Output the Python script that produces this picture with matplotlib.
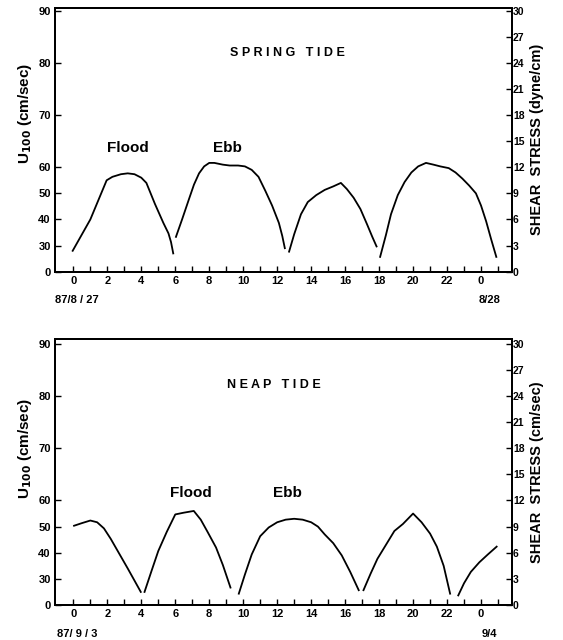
import numpy as np
import matplotlib
matplotlib.use('Agg')
import matplotlib.pyplot as plt

plt.rcParams['font.family'] = ['Liberation Sans', 'DejaVu Sans']
plt.rcParams['font.weight'] = 'bold'

# left axis labels (U100) placed at shear-stress positions of the right axis
U_TICK_LABELS = ['0', '30', '40', '50', '60', '70', '80', '90']
U_TICK_POS = [0, 3, 6, 9, 12, 18, 24, 30]
STRESS_TICKS = list(range(0, 31, 3))
HOUR_TICKS = list(range(0, 26))
HOUR_LABELS = ['0', '', '2', '', '4', '', '6', '', '8', '', '10', '', '12', '', '14', '',
               '16', '', '18', '', '20', '', '22', '', '0', '']

# spring tide, 87/8/27 - 8/28 : (hour, shear stress) segments
spring_segs = [
    ([-0.04, 1.0, 1.96, 2.3, 2.8, 3.2, 3.6, 4.0, 4.3, 4.8, 5.3, 5.6, 5.75, 5.88],
     [2.4, 6.0, 10.5, 10.9, 11.2, 11.3, 11.2, 10.8, 10.2, 7.8, 5.6, 4.4, 3.4, 2.1]),
    ([6.04, 6.4, 6.8, 7.1, 7.4, 7.7, 8.0, 8.3, 8.8, 9.2, 9.7, 10.1, 10.5, 10.9, 11.3,
      11.7, 12.1, 12.3, 12.45],
     [4.0, 6.0, 8.3, 10.0, 11.3, 12.1, 12.5, 12.5, 12.3, 12.2, 12.2, 12.1, 11.7, 10.9, 9.3,
      7.6, 5.6, 4.1, 2.7]),
    ([12.7, 13.0, 13.4, 13.8, 14.3, 14.8, 15.3, 15.75, 16.1, 16.5, 16.9, 17.3, 17.6, 17.85],
     [2.3, 4.3, 6.6, 8.0, 8.8, 9.4, 9.8, 10.2, 9.5, 8.5, 7.2, 5.4, 4.0, 2.9]),
    ([18.06, 18.4, 18.7, 19.1, 19.5, 19.9, 20.3, 20.76, 21.2, 21.6, 22.1, 22.5, 22.9, 23.3,
      23.7, 24.0, 24.3, 24.6, 24.9],
     [1.7, 4.2, 6.6, 8.8, 10.3, 11.4, 12.1, 12.5, 12.3, 12.1, 11.9, 11.4, 10.7, 9.9,
      9.0, 7.6, 5.8, 3.7, 1.7]),
]

# neap tide, 87/9/3 - 9/4
neap_segs = [
    ([0.04, 0.5, 1.0, 1.4, 1.8, 2.2, 2.7, 3.2, 3.6, 3.97],
     [9.1, 9.4, 9.7, 9.5, 8.8, 7.6, 5.9, 4.2, 2.8, 1.5]),
    ([4.19, 4.6, 5.0, 5.5, 6.0, 6.5, 7.09, 7.5, 7.9, 8.4, 8.8, 9.25],
     [1.5, 3.9, 6.2, 8.4, 10.4, 10.6, 10.8, 9.8, 8.4, 6.6, 4.6, 2.0]),
    ([9.74, 10.1, 10.5, 11.0, 11.5, 12.0, 12.5, 13.0, 13.5, 14.0, 14.4, 14.8, 15.3, 15.8,
      16.3, 16.8],
     [1.3, 3.5, 5.8, 7.9, 8.9, 9.5, 9.8, 9.9, 9.8, 9.5, 9.0, 8.1, 7.1, 5.7, 3.8, 1.7]),
    ([17.08, 17.5, 17.9, 18.4, 18.9, 19.4, 20.0, 20.5, 21.0, 21.4, 21.8, 22.18],
     [1.7, 3.6, 5.3, 6.9, 8.5, 9.3, 10.5, 9.5, 8.2, 6.7, 4.5, 1.3]),
    ([22.66, 23.0, 23.4, 23.9, 24.4, 24.92],
     [1.1, 2.5, 3.8, 4.9, 5.8, 6.7]),
]

panels = [
    dict(segs=spring_segs, title='S P R I N G   T I D E', title_xy=(0.51, 0.83),
         flood=(3.2, 14.2), ebb=(9.1, 14.2), date0='87/8 / 27', date1='8/28',
         right_label='SHEAR  STRESS (dyne/cm)', rect=[0.0977, 0.5755, 0.811, 0.412],
         ytop=30.3, ylab_y=0.60),
    dict(segs=neap_segs, title='N E A P   T I D E', title_xy=(0.48, 0.83),
         flood=(6.9, 12.9), ebb=(12.6, 12.9), date0='87/ 9 / 3', date1='9/4',
         right_label='SHEAR  STRESS (cm/sec)', rect=[0.0977, 0.0547, 0.811, 0.415],
         ytop=30.5, ylab_y=0.59),
]

fig = plt.figure(figsize=(5.63, 6.4), dpi=100)

for p in panels:
    ax = fig.add_axes(p['rect'])
    for xs, ys in p['segs']:
        ax.plot(xs, ys, color='black', lw=1.3)
    ax.set_xlim(-1.08, 25.8)
    ax.set_ylim(0, p['ytop'])
    ax.set_xticks(HOUR_TICKS)
    ax.set_xticklabels(HOUR_LABELS, fontsize=8, fontweight='bold')
    ax.set_yticks(U_TICK_POS)
    ax.set_yticklabels(U_TICK_LABELS, fontsize=8, fontweight='bold')
    ax.tick_params(direction='in', length=4, width=1, pad=3)
    for s in ax.spines.values():
        s.set_linewidth(1.4)
    ax.set_ylabel(r'U$_{100}$ (cm/sec)', fontsize=11, fontweight='bold')
    ax.yaxis.set_label_coords(-0.047, p['ylab_y'])

    ax2 = ax.twinx()
    ax2.set_ylim(0, p['ytop'])
    ax2.set_yticks(STRESS_TICKS)
    ax2.set_yticklabels([str(v) for v in STRESS_TICKS], fontsize=7.5, fontweight='bold')
    ax2.tick_params(direction='in', length=4, width=1, pad=1)
    ax2.set_ylabel(p['right_label'], fontsize=10.5, fontweight='bold', labelpad=4)
    for s in ax2.spines.values():
        s.set_linewidth(1.4)

    ax.text(*p['title_xy'], p['title'], transform=ax.transAxes, ha='center', va='center',
            fontsize=9, fontweight='bold')
    ax.text(*p['flood'], 'Flood', ha='center', va='center', fontsize=11, fontweight='bold')
    ax.text(*p['ebb'], 'Ebb', ha='center', va='center', fontsize=11, fontweight='bold')
    ax.text(0.2, -0.09, p['date0'], transform=ax.get_xaxis_transform(), ha='center', va='top',
            fontsize=8, fontweight='bold')
    ax.text(24.5, -0.09, p['date1'], transform=ax.get_xaxis_transform(), ha='center', va='top',
            fontsize=8, fontweight='bold')

fig.savefig('out.png', dpi=100)
